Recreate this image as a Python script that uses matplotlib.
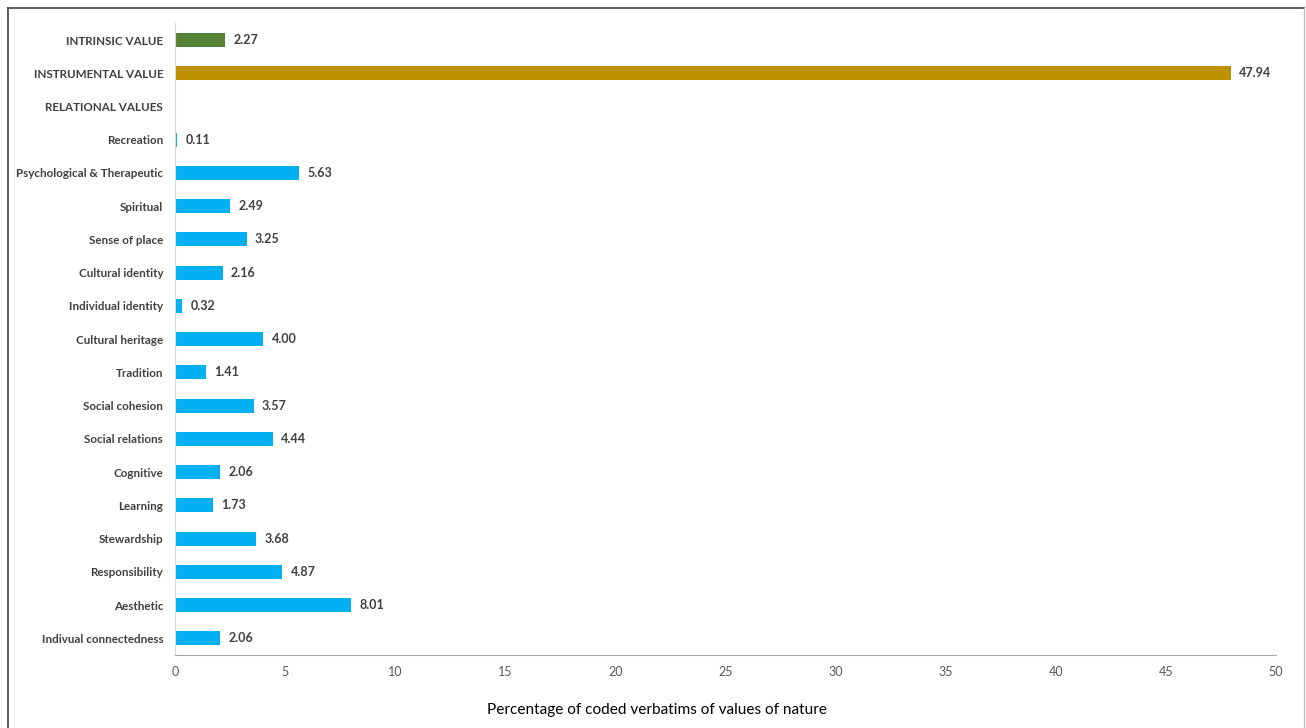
import matplotlib
matplotlib.use("Agg")
import matplotlib.pyplot as plt
from matplotlib.lines import Line2D

categories = ["INTRINSIC VALUE", "INSTRUMENTAL VALUE", "RELATIONAL VALUES", "Recreation",
              "Psychological & Therapeutic", "Spiritual", "Sense of place", "Cultural identity",
              "Individual identity", "Cultural heritage", "Tradition", "Social cohesion",
              "Social relations", "Cognitive", "Learning", "Stewardship", "Responsibility",
              "Aesthetic", "Indivual connectedness"]
values = [2.27, 47.94, None, 0.11, 5.63, 2.49, 3.25, 2.16, 0.32, 4.00, 1.41, 3.57, 4.44,
          2.06, 1.73, 3.68, 4.87, 8.01, 2.06]
colors = ["#548235", "#BF9000", "#00B0F0"] + ["#00B0F0"] * 16
xticks = [0, 5, 10, 15, 20, 25, 30, 35, 40, 45, 50]
xlabel = "Percentage of coded verbatims of values of nature"

plt.rcParams['font.family'] = ['Lato', 'DejaVu Sans']

fig = plt.figure(figsize=(13.06, 7.28), dpi=100)
W, H = 1306, 728
ax = fig.add_axes([175 / W, 1 - 655 / H, (1276 - 175) / W, (655 - 23.4) / H])

n = len(categories)
ypos = list(range(n))
for y, v, c in zip(ypos, values, colors):
    if v is None:
        continue
    ax.barh(y, v, height=0.42, color=c)
    ax.text(v + 0.38, y, f"{v:.2f}", va="center", ha="left", fontsize=9,
            fontweight="bold", color="#404040")

ax.set_ylim(n - 0.5, -0.5)
ax.set_xlim(0, 50)
ax.set_yticks(ypos)
ax.set_yticklabels(categories, fontsize=8.4, fontweight="bold", color="#404040")
ax.set_xticks(xticks)
ax.set_xticklabels([str(t) for t in xticks], fontsize=9, color="#595959")
ax.tick_params(axis="both", length=0)
ax.tick_params(axis="y", pad=8.5)
ax.tick_params(axis="x", pad=8)
for s in ["top", "right"]:
    ax.spines[s].set_visible(False)
ax.spines["left"].set_color("#D9D9D9")
ax.spines["bottom"].set_color("#A6A6A6")
fig.text(657 / W, 1 - 710 / H, xlabel, fontsize=11.1, color="#000000",
         ha="center", va="center")

# outer frame
fig.add_artist(Line2D([8 / W, 1304 / W], [1 - 8 / H, 1 - 8 / H], color="#404040", lw=1.2))
fig.add_artist(Line2D([8 / W, 8 / W], [0, 1 - 8 / H], color="#404040", lw=1.2))
fig.add_artist(Line2D([1304 / W, 1304 / W], [0, 1 - 8 / H], color="#BFBFBF", lw=1.0))

fig.savefig("out.png", dpi=100)
